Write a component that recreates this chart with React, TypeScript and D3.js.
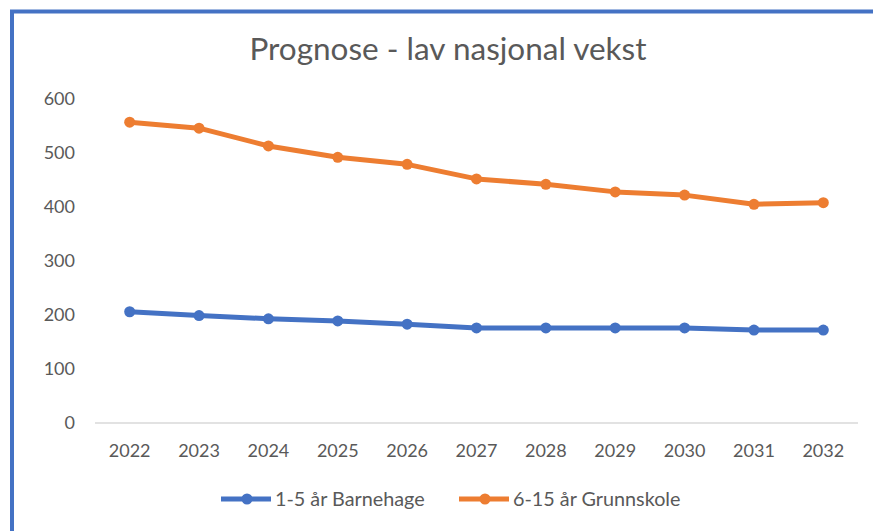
import React, { useEffect, useRef } from 'react';
import * as d3 from 'd3';

// Chart data
const years = ['2022', '2023', '2024', '2025', '2026', '2027', '2028', '2029', '2030', '2031', '2032'];
const barnehage = [206, 199, 193, 189, 183, 176, 176, 176, 176, 172, 172];
const grunnskole = [557, 546, 513, 492, 479, 452, 442, 428, 422, 405, 408];
const yTicks = [0, 100, 200, 300, 400, 500, 600];
const seriesNames = ['1-5 år Barnehage', '6-15 år Grunnskole'];
const seriesColors = ['#4472C4', '#ED7D31'];

const App = () => {
  const ref = useRef<SVGSVGElement | null>(null);

  useEffect(() => {
    const width = 873;
    const height = 531;
    const margin = { top: 99, right: 15, bottom: 108, left: 95 };
    const font = 'Lato, "Open Sans", sans-serif';
    const textColor = '#595959';

    const svg = d3.select(ref.current);
    svg.selectAll('*').remove();

    svg.append('rect')
      .attr('width', width)
      .attr('height', height)
      .attr('fill', '#fff');

    // selection frame on the left and top edge
    svg.append('path')
      .attr('d', `M12,${height} V11.5 H${width}`)
      .attr('fill', 'none')
      .attr('stroke', '#4472C4')
      .attr('stroke-width', 4);

    const x = d3.scalePoint<string>()
      .domain(years)
      .range([margin.left, width - margin.right])
      .padding(0.5);

    const y = d3.scaleLinear()
      .domain([0, 600])
      .range([height - margin.bottom, margin.top]);

    // title
    svg.append('text')
      .attr('x', 448)
      .attr('y', 60)
      .attr('text-anchor', 'middle')
      .attr('font-family', font)
      .attr('font-size', 31.5)
      .attr('fill', textColor)
      .text('Prognose - lav nasjonal vekst');

    // y axis labels
    svg.append('g')
      .selectAll('text')
      .data(yTicks)
      .enter()
      .append('text')
      .attr('x', 75)
      .attr('y', d => y(d))
      .attr('dy', '0.35em')
      .attr('text-anchor', 'end')
      .attr('font-family', font)
      .attr('font-size', 18)
      .attr('fill', textColor)
      .text(d => d);

    // x axis line
    svg.append('line')
      .attr('x1', margin.left)
      .attr('x2', width - margin.right)
      .attr('y1', y(0))
      .attr('y2', y(0))
      .attr('stroke', '#d9d9d9')
      .attr('stroke-width', 1.5);

    // x axis labels
    svg.append('g')
      .selectAll('text')
      .data(years)
      .enter()
      .append('text')
      .attr('x', d => x(d)!)
      .attr('y', y(0) + 34)
      .attr('text-anchor', 'middle')
      .attr('font-family', font)
      .attr('font-size', 18)
      .attr('fill', textColor)
      .text(d => d);

    const line = d3.line<number>()
      .x((_, i) => x(years[i])!)
      .y(d => y(d));

    [barnehage, grunnskole].forEach((values, s) => {
      svg.append('path')
        .datum(values)
        .attr('fill', 'none')
        .attr('stroke', seriesColors[s])
        .attr('stroke-width', 5)
        .attr('stroke-linejoin', 'round')
        .attr('d', line);

      svg.append('g')
        .selectAll('circle')
        .data(values)
        .enter()
        .append('circle')
        .attr('cx', (_, i) => x(years[i])!)
        .attr('cy', d => y(d))
        .attr('r', 5.5)
        .attr('fill', seriesColors[s]);
    });

    // legend
    const legendY = 499;
    const legendX = [221, 459];
    seriesNames.forEach((name, s) => {
      const g = svg.append('g').attr('transform', `translate(${legendX[s]},${legendY})`);
      g.append('line')
        .attr('x1', 0)
        .attr('x2', 50)
        .attr('stroke', seriesColors[s])
        .attr('stroke-width', 5);
      g.append('circle')
        .attr('cx', 26)
        .attr('r', 5.5)
        .attr('fill', seriesColors[s]);
      g.append('text')
        .attr('x', 54)
        .attr('dy', '0.35em')
        .attr('font-family', font)
        .attr('font-size', 19.8)
        .attr('fill', textColor)
        .text(name);
    });
  }, []);

  return (
    <svg
      ref={ref}
      width={873}
      height={531}
      style={{ position: 'absolute', left: 0, top: 0, display: 'block' }}
    />
  );
};

export default App;
